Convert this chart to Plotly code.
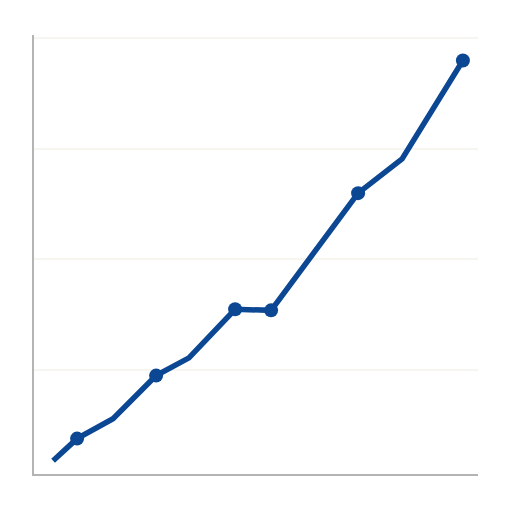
import plotly.graph_objects as go

# values
x_vals = [4.3, 9.7, 17.8, 27.5, 34.9, 45.3, 53.4, 73.0, 82.9, 96.6]
y_vals = [1.8, 3.8, 5.6, 9.5, 11.1, 15.5, 15.4, 26.0, 29.1, 38.0]
has_marker = [False, True, False, True, False, True, True, True, False, True]

line_color = "#0b4792"

fig = go.Figure()
fig.add_trace(
    go.Scatter(
        x=x_vals,
        y=y_vals,
        mode="lines",
        line=dict(color=line_color, width=5.5),
        showlegend=False,
    )
)
# dots only on some of the points
fig.add_trace(
    go.Scatter(
        x=[x for x, m in zip(x_vals, has_marker) if m],
        y=[y for y, m in zip(y_vals, has_marker) if m],
        mode="markers",
        marker=dict(size=14, color=line_color, opacity=1, line=dict(width=0)),
        showlegend=False,
    )
)

fig.update_layout(
    width=512,
    height=512,
    margin=dict(l=26, r=42, t=27, b=46),
    paper_bgcolor="white",
    plot_bgcolor="white",
    xaxis=dict(
        range=[0, 100],
        showgrid=False,
        zeroline=False,
        showticklabels=False,
        showline=True,
        linecolor="#b4b4b4",
        linewidth=2,
    ),
    yaxis=dict(
        range=[0.6, 40.3],
        tickvals=[10, 20, 30, 40],
        showgrid=True,
        gridcolor="#f7f5f0",
        gridwidth=1.5,
        zeroline=False,
        showticklabels=False,
        showline=True,
        linecolor="#b4b4b4",
        linewidth=2,
    ),
)

fig.write_html("out.html")
